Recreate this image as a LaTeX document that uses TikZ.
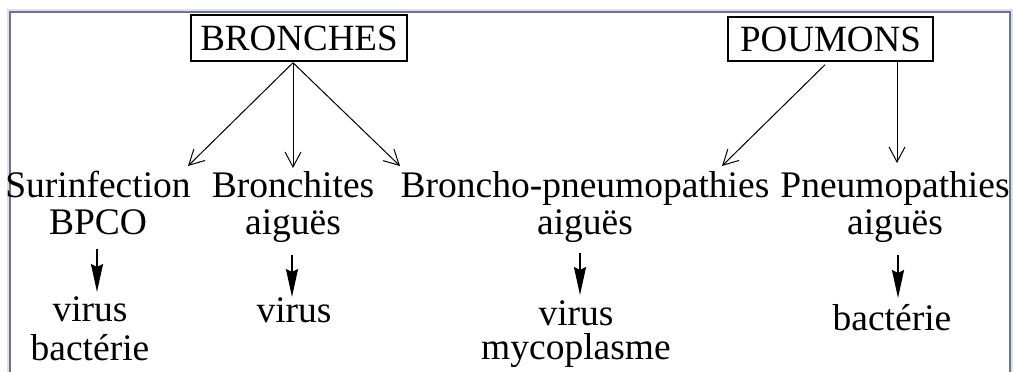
\documentclass[tikz,border=0pt]{standalone}
\usepackage{fontspec}
\setmainfont{Liberation Serif}
\usetikzlibrary{arrows.meta}
\definecolor{framedark}{HTML}{70748A}
\definecolor{framelight}{HTML}{DCDFF0}
\begin{document}
\begin{tikzpicture}[x=1pt,y=-1pt,
  lbl/.style={font=\fontsize{37.5}{37}\selectfont, inner sep=0pt, anchor=base, align=center},
  boxed/.style={draw, line width=1.5pt, inner sep=0pt, font=\fontsize{37}{37}\selectfont},
  thinarrow/.style={line width=1pt, -{Straight Barb[length=15pt,width=16pt,line width=1pt]}},
  fatarrow/.style={line width=2pt, -{Stealth[length=28pt,width=12pt,inset=3pt]}}
]
\useasboundingbox (0,0) rectangle (1013,372);
\fill[white] (0,0) rectangle (1013,372);
% window frame
\draw[framelight, line width=2pt] (7.5,372) -- (7.5,9.5) -- (1012,9.5) -- (1012,372);
\draw[framedark, line width=2pt] (9.5,372) -- (9.5,11.5) -- (1010,11.5) -- (1010,372);

% top boxes
\node[boxed, minimum width=216pt, minimum height=46pt] (bronches) at (299,38) {BRONCHES};
\node[boxed, minimum width=205pt, minimum height=44pt] (poumons) at (830.5,39) {POUMONS};

% middle row (base = baseline of last line)
\node[lbl] (surinf) at (98,234) {Surinfection\\BPCO};
\node[lbl] (bronch) at (293,234) {Bronchites\\aiguës};
\node[lbl] (bpneu) at (585,234) {Broncho-pneumopathies\\aiguës};
\node[lbl] (pneumo) at (895,234) {Pneumopathies\\aiguës};

% bottom row
\node[lbl, font=\fontsize{37.5}{39}\selectfont] (v1) at (90,360) {virus\\bactérie};
\node[lbl] (v2) at (294,322) {virus};
\node[lbl, font=\fontsize{37.5}{34}\selectfont] (v3) at (576,359) {virus\\mycoplasme};
\node[lbl] (v4) at (892,330) {bactérie};

% thin arrows
\draw[thinarrow] ([shift={(-6,1)}]bronches.south) -- ([shift={(90,-68)}]surinf.base);
\draw[thinarrow] ([shift={(-6,1)}]bronches.south) -- ([shift={(0,-66)}]bronch.base);
\draw[thinarrow] ([shift={(-6,1)}]bronches.south) -- ([shift={(-185,-68)}]bpneu.base);
\draw[thinarrow] ([shift={(-5.5,3)}]poumons.south) -- ([shift={(137,-68)}]bpneu.base);
\draw[thinarrow] ([shift={(66.5,0)}]poumons.south) -- ([shift={(2,-71)}]pneumo.base);

% fat arrows
\draw[fatarrow] ([shift={(-1,15)}]surinf.base) -- ([shift={(7,-68)}]v1.base);
\draw[fatarrow] ([shift={(-1,21)}]bronch.base) -- ([shift={(-2,-25)}]v2.base);
\draw[fatarrow] ([shift={(-5,19)}]bpneu.base) -- ([shift={(4,-64)}]v3.base);
\draw[fatarrow] ([shift={(3,21)}]pneumo.base) -- ([shift={(6,-32)}]v4.base);
\end{tikzpicture}
\end{document}
